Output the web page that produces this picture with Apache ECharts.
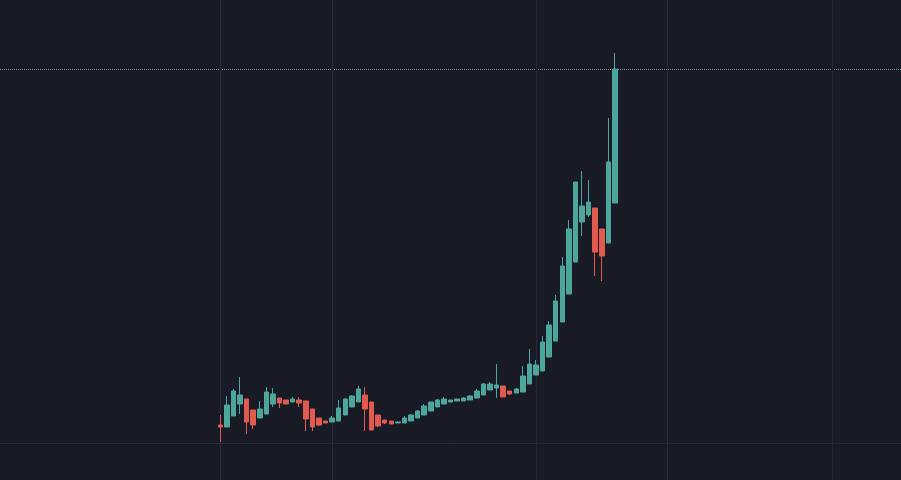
<!DOCTYPE html>
<html>
<head>
<meta charset="utf-8">
<script src="https://cdn.jsdelivr.net/npm/echarts@6/dist/echarts.min.js"></script>
<style>
html, body { margin: 0; padding: 0; background: #181a25; }
#chart { width: 901px; height: 480px; }
</style>
</head>
<body>
<div id="chart"></div>
<script>
// candles: [open, close, low, high]
var candles = [
    [55,53,38,65],[53,75,53,84],[64,89,64,91],[76,85,66,103],[81,58,46,81],
    [70,55,51,70],[62,71,62,79],[66,88,66,93],[76,86,73,92],[82,77,72,82],
    [80,76,76,80],[78,81,78,83],[80,77,73,83],[79,61,49,79],[71,53,49,71],
    [62,55,54,62],[59,57,57,59],[58,62,58,64],[59,72,59,80],[65,81,65,82],
    [73,84,73,85],[78,91,78,94],[85,71,49,93],[78,50,50,78],[65,54,53,65],
    [60,57,56,60],[59,56,56,59],[57,58,57,59],[57,62,57,64],[59,65,59,66],
    [62,69,62,70],[65,74,65,76],[69,78,69,78],[73,80,73,81],[76,81,76,83],
    [78,80,78,80],[79,81,79,81],[79,82,79,83],[80,84,80,85],[82,89,82,91],
    [85,96,85,97],[90,96,90,98],[92,95,82,116],[94,83,83,94],[89,86,85,89],
    [87,91,87,92],[88,104,88,114],[96,116,96,131],[105,115,105,120],[109,138,109,144],
    [123,155,123,159],[139,179,139,185],[158,214,158,223],[186,251,186,260],[218,298,218,298],
    [258,274,244,309],[265,278,263,300],[272,228,204,272],[251,224,199,251],[237,318,237,362],
    [277,411,277,427]
];
var firstIndex = 33;
var slotCount = 137;
var gridLinesX = [33, 50, 81, 101, 126];
var baseLine = 37;

var categories = [];
for (var i = 0; i < slotCount; i++) categories.push(String(i));
var seriesData = [];
for (var i = 0; i < slotCount; i++) {
    var k = i - firstIndex;
    seriesData.push(k >= 0 && k < candles.length ? candles[k] : '-');
}
var lastClose = candles[candles.length - 1][1];

var markData = [
    { yAxis: baseLine, lineStyle: { color: '#262a36', type: 'solid', width: 1 } },
    { yAxis: lastClose, lineStyle: { color: '#6a9a9a', type: 'dotted', width: 1 } }
];
gridLinesX.forEach(function (x) {
    markData.push({ xAxis: String(x), lineStyle: { color: '#262a36', type: 'solid', width: 1 } });
});

var chart = echarts.init(document.getElementById('chart'));
chart.setOption({
    backgroundColor: '#181a25',
    animation: false,
    grid: { left: -0.5, right: -3.7, top: 0, bottom: 0 },
    xAxis: {
        type: 'category',
        data: categories,
        axisLine: { show: false },
        axisTick: { show: false },
        axisLabel: { show: false },
        splitLine: { show: false }
    },
    yAxis: {
        type: 'value',
        min: 0,
        max: 480,
        axisLine: { show: false },
        axisTick: { show: false },
        axisLabel: { show: false },
        splitLine: { show: false }
    },
    series: [{
        type: 'candlestick',
        barWidth: 5,
        data: seriesData,
        itemStyle: {
            color: '#4da69a',
            color0: '#e05a50',
            borderColor: '#4da69a',
            borderColor0: '#e05a50',
            borderWidth: 1
        },
        markLine: {
            symbol: ['none', 'none'],
            silent: true,
            label: { show: false },
            z: 1,
            data: markData
        }
    }]
});
</script>
</body>
</html>
